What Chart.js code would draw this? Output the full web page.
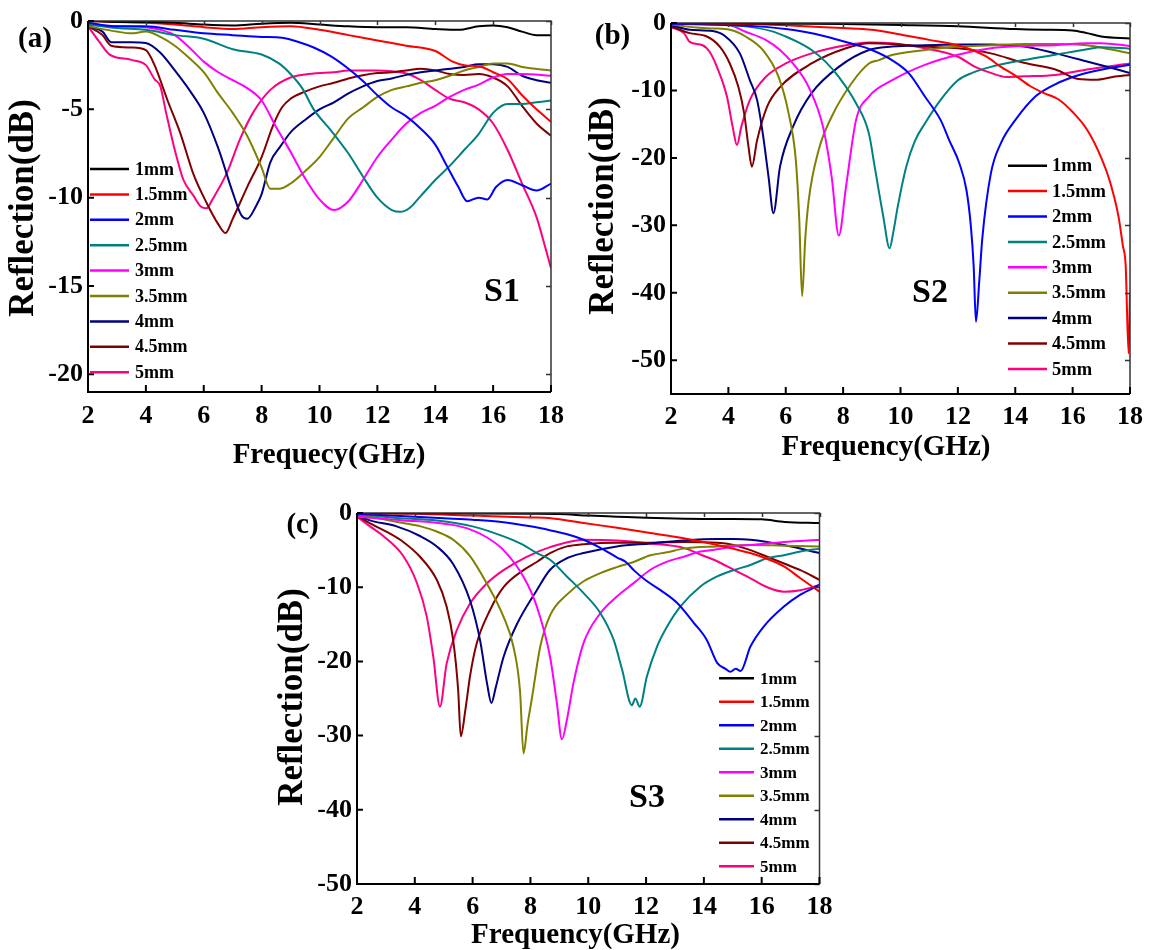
<!DOCTYPE html>
<html>
<head>
<meta charset="utf-8">
<script src="https://cdn.jsdelivr.net/npm/chart.js@4.4.1/dist/chart.umd.min.js"></script>
<style>
  body { margin: 0; background: #fff; width: 1151px; height: 950px; position: relative; overflow: hidden; }
  canvas { position: absolute; }
</style>
</head>
<body>
<canvas id="chart-a" width="575" height="475" style="left:0px;top:0px"></canvas>
<canvas id="chart-b" width="576" height="475" style="left:575px;top:0px"></canvas>
<canvas id="chart-c" width="575" height="475" style="left:270px;top:475px"></canvas>
<script>
// sample thicknesses, shared by all three panels
const thickness = ['1mm', '1.5mm', '2mm', '2.5mm', '3mm', '3.5mm', '4mm', '4.5mm', '5mm'];
const lineColors = ['#000000', '#ff0000', '#0000ff', '#008080', '#ff00ff', '#808000', '#000080', '#800000', '#ff0080'];
const freqTicks = [2, 4, 6, 8, 10, 12, 14, 16, 18];
const dbTicksA = [0, -5, -10, -15, -20];
const dbTicksB = [0, -10, -20, -30, -40, -50];
const dbTicksC = [0, -10, -20, -30, -40, -50];

// S1 reflection loss, [GHz, dB]
const s1_10 = [[2,0],[3,-0.05],[4,-0.05],[5,-0.1],[6,-0.2],[7,-0.25],[8,-0.15],[9,-0.1],[10,-0.2],[11,-0.3],[12,-0.35],[13,-0.35],[14,-0.45],[14.8,-0.5],[15.5,-0.3],[16,-0.25],[16.5,-0.35],[17,-0.6],[17.5,-0.8],[18,-0.8]];
const s1_15 = [[2,0],[3,-0.05],[4,-0.1],[5,-0.2],[6,-0.35],[7,-0.45],[8,-0.35],[9,-0.3],[10,-0.5],[11,-0.8],[12,-1.1],[13,-1.4],[14,-1.7],[14.6,-2.3],[15,-2.5],[15.6,-2.6],[16,-2.9],[16.5,-3.3],[17,-4.2],[17.5,-5.0],[18,-5.7]];
const s1_20 = [[2,-0.1],[3,-0.3],[4,-0.3],[5,-0.5],[6,-0.7],[7,-0.8],[8,-0.9],[8.7,-0.95],[9.3,-1.2],[9.8,-1.5],[10.4,-2.0],[11,-2.7],[11.5,-3.4],[12,-4.2],[12.5,-4.9],[13,-5.4],[13.5,-6.1],[14,-7.0],[14.4,-8.2],[14.8,-9.4],[15.1,-10.2],[15.5,-10.0],[15.8,-10.1],[16.1,-9.4],[16.5,-9.0],[17,-9.3],[17.5,-9.6],[18,-9.2]];
const s1_25 = [[2,-0.2],[3,-0.4],[4,-0.5],[5,-0.8],[6,-1.0],[7,-1.6],[8,-1.9],[8.6,-2.4],[9,-3.0],[9.4,-3.8],[9.8,-5.0],[10.4,-6.2],[11,-7.5],[11.5,-8.8],[12,-10.0],[12.5,-10.7],[12.8,-10.8],[13.1,-10.6],[13.5,-9.9],[14,-9.0],[14.5,-8.2],[15,-7.3],[15.5,-6.4],[16,-5.2],[16.5,-4.7],[17,-4.7],[17.5,-4.6],[18,-4.5]];
const s1_30 = [[2,-0.2],[3,-0.3],[4,-0.35],[4.5,-0.5],[5,-0.8],[5.5,-1.5],[6,-2.3],[6.5,-2.9],[7,-3.35],[7.5,-3.8],[8,-4.5],[8.5,-6.0],[9,-7.4],[9.5,-8.9],[10,-10.1],[10.5,-10.7],[11,-10.2],[11.5,-9.0],[12,-7.7],[12.5,-6.7],[13,-5.8],[13.5,-5.2],[14,-4.8],[14.5,-4.3],[15,-3.9],[15.5,-3.6],[16,-3.2],[16.5,-3.0],[17,-3.0],[18,-3.1]];
const s1_35 = [[2,-0.3],[3,-0.6],[3.5,-0.7],[4,-0.6],[4.5,-0.9],[5,-1.4],[5.5,-2.1],[6,-2.9],[6.5,-4.1],[7,-5.2],[7.5,-6.5],[8,-8.3],[8.3,-9.5],[8.6,-9.5],[9,-9.2],[9.5,-8.5],[10,-7.7],[10.5,-6.6],[11,-5.5],[11.5,-4.9],[12,-4.3],[12.5,-3.9],[13,-3.7],[13.5,-3.5],[14,-3.35],[14.5,-3.1],[15,-2.8],[15.5,-2.6],[16,-2.4],[16.5,-2.4],[17,-2.6],[18,-2.8]];
const s1_40 = [[2,-0.3],[2.5,-0.6],[2.8,-1.2],[3.5,-1.2],[4,-1.25],[4.5,-1.8],[5,-2.8],[5.5,-3.9],[6,-5.2],[6.5,-7.2],[7,-9.7],[7.3,-11.0],[7.5,-11.2],[7.8,-10.5],[8,-9.8],[8.3,-8.0],[8.65,-7.1],[9,-6.3],[9.5,-5.6],[10,-5.0],[10.5,-4.6],[11,-4.1],[11.5,-3.7],[12,-3.4],[12.5,-3.25],[13,-3.05],[13.5,-2.9],[14,-2.8],[15,-2.6],[15.5,-2.45],[16,-2.45],[16.5,-2.6],[17,-3.1],[17.5,-3.35],[18,-3.5]];
const s1_45 = [[2,-0.3],[2.5,-0.8],[2.8,-1.4],[3.5,-1.5],[4,-1.65],[4.3,-2.5],[4.75,-4.5],[5.2,-6.4],[5.65,-8.7],[6.1,-10.3],[6.5,-11.5],[6.75,-12.0],[7,-11.2],[7.5,-9.4],[8,-7.7],[8.4,-5.9],[8.7,-4.9],[9,-4.4],[9.5,-4.0],[10,-3.7],[10.5,-3.5],[11,-3.25],[11.5,-3.07],[12,-2.95],[12.5,-2.9],[13,-2.8],[13.5,-2.7],[14,-2.8],[14.5,-3.0],[15,-3.05],[15.5,-3.0],[16,-3.2],[16.5,-3.7],[17,-4.8],[17.5,-5.8],[18,-6.5]];
const s1_50 = [[2,-0.3],[2.4,-1.2],[2.75,-1.9],[3.5,-2.2],[4,-2.5],[4.3,-3.3],[4.5,-3.7],[4.7,-5.2],[5,-7.3],[5.3,-9.0],[5.65,-9.9],[5.9,-10.5],[6.1,-10.6],[6.3,-10.1],[6.8,-8.6],[7.25,-6.7],[7.7,-5.2],[8.3,-3.9],[9,-3.2],[9.8,-2.97],[10.5,-2.9],[11,-2.8],[12,-2.8],[12.5,-2.85],[13,-2.97],[13.5,-3.35],[14,-3.9],[14.5,-4.4],[15,-4.6],[15.5,-5.0],[16,-5.8],[16.5,-7.3],[17,-9.2],[17.5,-11.1],[17.8,-12.8],[18,-14.0]];

// S2 reflection loss
const s2_10 = [[2,0],[4,-0.05],[6,-0.1],[8,-0.15],[10,-0.3],[12,-0.5],[14,-0.9],[15,-1.0],[16,-1.1],[16.5,-1.5],[17,-2.0],[18,-2.3]];
const s2_15 = [[2,0],[3,-0.05],[4,-0.1],[5,-0.2],[6,-0.35],[7,-0.55],[8,-0.75],[9,-1.0],[10,-1.7],[11,-2.5],[12,-3.3],[12.5,-4.0],[13,-5.0],[13.5,-6.5],[14,-7.8],[14.5,-9.3],[15,-10.4],[15.5,-11.3],[16,-13.2],[16.5,-15.8],[17,-20.0],[17.3,-23.5],[17.6,-28.7],[17.75,-33.0],[17.85,-36.0],[17.95,-49.0],[18,-40.0]];
const s2_20 = [[2,-0.1],[3,-0.2],[4,-0.3],[5,-0.5],[6,-0.9],[7,-1.6],[8,-2.7],[8.5,-3.3],[9,-4.0],[9.7,-5.5],[10.3,-7.5],[10.85,-10.9],[11.4,-14.4],[11.7,-17.4],[12.05,-20.8],[12.3,-24.8],[12.45,-30.0],[12.55,-36.0],[12.63,-44.3],[12.75,-38.0],[12.85,-32.0],[13.15,-22.3],[13.5,-17.8],[14,-14.4],[14.7,-10.9],[15.2,-9.5],[16,-8.0],[16.9,-7.0],[18,-6.2]];
const s2_25 = [[2,-0.1],[3,-0.2],[4,-0.35],[4.6,-0.5],[5.5,-1.2],[6,-2.0],[6.5,-3.0],[6.9,-4.0],[7.4,-5.8],[7.85,-8.0],[8.45,-11.9],[8.9,-16.4],[9.1,-21.3],[9.4,-28.7],[9.62,-33.4],[9.75,-31.0],[9.9,-27.3],[10.2,-21.3],[10.5,-17.5],[10.85,-14.9],[11.4,-11.4],[12,-8.5],[12.5,-7.4],[13.15,-6.5],[14.3,-5.5],[15.4,-4.7],[16.5,-3.9],[17,-3.6],[18,-3.8]];
const s2_30 = [[2,-0.1],[3,-0.15],[3.9,-0.2],[4.6,-1.3],[5.3,-2.5],[5.8,-4.0],[6.25,-6.0],[6.8,-9.5],[7.3,-15.4],[7.6,-22.8],[7.85,-31.5],[8.1,-24.3],[8.45,-14.4],[8.9,-10.9],[9.7,-8.5],[10.85,-6.2],[12,-4.7],[13.15,-3.75],[14.3,-3.4],[15.4,-3.3],[16.5,-3.0],[17,-3.0],[18,-3.4]];
const s2_35 = [[2,-0.2],[2.5,-0.5],[3,-0.7],[3.45,-0.8],[4.05,-1.0],[4.6,-2.0],[5.2,-4.0],[5.75,-8.0],[6.1,-13.4],[6.35,-20.3],[6.47,-29.0],[6.57,-40.5],[6.68,-32.0],[6.8,-26.3],[7.15,-18.8],[7.6,-13.9],[8.3,-8.9],[8.9,-6.0],[9.25,-5.5],[9.7,-4.75],[10.85,-4.0],[12,-3.5],[13.15,-3.3],[14.3,-3.1],[15.4,-3.1],[16.5,-3.3],[17.3,-3.9],[18,-4.5]];
const s2_40 = [[2,-0.3],[2.65,-1.0],[3.45,-1.2],[3.9,-2.0],[4.4,-4.5],[4.75,-8.5],[5.0,-11.4],[5.2,-16.4],[5.4,-22.8],[5.57,-28.2],[5.8,-21.3],[6.25,-15.4],[6.9,-10.4],[7.85,-6.5],[8.9,-4.0],[9.7,-3.5],[10.85,-3.3],[12,-3.2],[13.15,-3.2],[14.3,-3.5],[15.4,-4.5],[16.5,-5.7],[18,-7.4]];
const s2_45 = [[2,-0.5],[2.65,-1.5],[3.25,-2.0],[3.7,-3.5],[4.05,-6.0],[4.35,-9.5],[4.55,-13.4],[4.7,-18.3],[4.82,-21.3],[5.0,-17.4],[5.35,-12.4],[5.8,-9.5],[6.9,-6.0],[8.1,-3.75],[8.9,-3.0],[9.7,-3.1],[10.85,-3.5],[12,-3.75],[13.15,-4.5],[14.3,-5.9],[15.4,-6.9],[16.2,-8.3],[16.8,-8.4],[17.4,-8.0],[18,-7.7]];
const s2_50 = [[2,-0.6],[2.45,-1.5],[2.65,-2.8],[3.1,-3.3],[3.35,-4.3],[3.6,-6.5],[3.95,-10.9],[4.15,-15.4],[4.3,-18.1],[4.45,-15.4],[4.75,-11.4],[5.3,-8.0],[6.0,-6.0],[6.9,-4.5],[8.1,-3.3],[8.9,-2.9],[9.7,-3.0],[10.85,-3.75],[12,-5.0],[12.6,-6.5],[13.15,-7.4],[13.7,-8.0],[14.3,-7.9],[15.4,-7.7],[16.5,-6.9],[18,-6.0]];

// S3 reflection loss
const s3_10 = [[2,0],[5,-0.05],[8,-0.1],[9,-0.15],[10,-0.35],[11,-0.5],[12,-0.65],[13,-0.75],[14,-0.8],[15,-0.8],[16,-0.85],[16.8,-1.2],[18,-1.35]];
const s3_15 = [[2,0],[4,-0.1],[6,-0.35],[8,-0.6],[8.7,-0.7],[9.84,-1.35],[11,-2.0],[12.15,-2.7],[13.3,-3.4],[14.46,-4.3],[15.6,-5.4],[16.2,-6.2],[16.77,-7.2],[17.34,-8.8],[18,-10.6]];
const s3_20 = [[2,-0.1],[3,-0.3],[4,-0.5],[5,-0.7],[6,-0.9],[7,-1.2],[8,-1.8],[8.7,-2.35],[9.3,-2.9],[9.84,-3.6],[10.42,-4.7],[11,-6.0],[11.3,-6.6],[11.6,-7.8],[12,-9.1],[12.5,-10.4],[13.07,-12.1],[13.65,-14.8],[14.1,-17.1],[14.46,-20.2],[14.75,-21.0],[14.92,-21.4],[15.1,-21.0],[15.27,-21.3],[15.61,-18.0],[16.07,-15.3],[16.77,-12.6],[17.34,-11.0],[18,-9.7]];
const s3_25 = [[2,-0.2],[2.45,-0.35],[3.5,-0.7],[4.76,-1.0],[6,-1.8],[7.07,-3.15],[7.7,-4.2],[8.22,-5.4],[8.68,-6.3],[9.26,-8.55],[9.84,-10.8],[10.42,-13.5],[10.88,-17.1],[11.17,-21.1],[11.51,-25.9],[11.63,-25.0],[11.78,-26.1],[12.03,-22.0],[12.38,-18.0],[12.73,-15.3],[13.19,-12.6],[13.88,-9.9],[14.46,-8.55],[15.03,-7.7],[15.61,-7.0],[16.19,-6.1],[16.77,-5.7],[17.34,-5.2],[18,-4.8]];
const s3_30 = [[2,-0.5],[3,-0.8],[3.6,-1.0],[4.5,-1.2],[5.3,-1.6],[5.91,-2.2],[6.5,-3.3],[7.07,-5.0],[7.76,-8.6],[8.22,-12.6],[8.68,-19.4],[8.91,-25.5],[9.09,-30.5],[9.26,-27.9],[9.49,-22.9],[9.84,-17.5],[10.42,-13.5],[10.99,-11.25],[11.57,-9.45],[12.15,-7.65],[12.73,-6.55],[13.3,-5.9],[13.88,-5.2],[14.46,-4.9],[15.03,-4.5],[15.61,-4.3],[16.19,-4.1],[16.77,-3.9],[18,-3.6]];
const s3_35 = [[2,-0.4],[2.45,-0.5],[3,-0.9],[3.6,-1.35],[4.2,-1.8],[4.76,-2.5],[5.33,-3.6],[5.91,-5.8],[6.49,-9.5],[7.07,-14.0],[7.41,-18.0],[7.64,-24.0],[7.76,-32.4],[7.9,-28.5],[8.05,-25.0],[8.34,-18.0],[8.68,-13.8],[9.26,-11.0],[9.84,-9.2],[10.42,-8.1],[10.99,-7.3],[11.57,-6.6],[12.15,-5.7],[12.73,-5.3],[13.3,-4.8],[14.46,-4.5],[15.61,-4.3],[16.77,-4.4],[18,-4.5]];
const s3_40 = [[2,-0.3],[2.45,-1.0],[3.37,-1.8],[4.18,-3.1],[4.76,-4.5],[5.33,-6.9],[5.91,-11.8],[6.26,-17.2],[6.5,-23.0],[6.65,-25.6],[6.8,-23.5],[7.07,-19.4],[7.53,-15.0],[8.22,-10.4],[8.68,-7.65],[9.26,-6.1],[9.84,-5.4],[10.99,-4.5],[12.15,-4.1],[13.3,-3.7],[14.46,-3.5],[15.03,-3.5],[15.61,-3.6],[16.77,-4.3],[18,-5.4]];
const s3_45 = [[2,-0.4],[2.45,-1.4],[2.91,-2.3],[3.6,-3.9],[4.18,-5.9],[4.76,-9.0],[5.1,-12.6],[5.33,-17.2],[5.5,-23.9],[5.59,-30.1],[5.75,-26.5],[5.91,-22.0],[6.14,-17.6],[6.6,-13.1],[7.07,-10.0],[7.76,-7.7],[8.22,-6.6],[8.68,-5.4],[9.26,-4.5],[9.84,-4.2],[11,-4.0],[12.15,-4.0],[13.3,-3.9],[14.46,-4.0],[15.03,-4.3],[15.61,-5.0],[16.19,-5.9],[16.77,-6.8],[17.34,-7.7],[18,-9.0]];
const s3_50 = [[2,-0.5],[2.45,-1.8],[2.91,-3.1],[3.6,-5.8],[4.07,-9.4],[4.41,-13.9],[4.64,-19.4],[4.87,-26.1],[5.1,-20.3],[5.45,-15.8],[5.91,-12.2],[6.49,-9.5],[7.07,-7.7],[7.87,-5.9],[8.68,-4.6],[9.84,-3.6],[11,-3.7],[12.15,-4.1],[13.3,-4.7],[13.88,-5.6],[14.46,-6.5],[15.03,-7.65],[15.61,-8.8],[16.19,-10.0],[16.77,-10.6],[17.34,-10.4],[18,-9.7]];

const serif = "'Liberation Serif', 'Times New Roman', serif";

// box round the plot with inward tick marks on every side
function framePlugin() {
    return {
        id: 'frame',
        afterDraw(chart) {
            const ctx = chart.ctx;
            const { left, right, top, bottom } = chart.chartArea;
            const xs = chart.scales.x, ys = chart.scales.y;
            ctx.save();
            ctx.lineWidth = 1.5;
            ctx.strokeStyle = '#333';
            ctx.beginPath();
            ctx.moveTo(left, top); ctx.lineTo(right, top); ctx.lineTo(right, bottom);
            xs.ticks.forEach(t => {
                const px = Math.round(xs.getPixelForValue(t.value)) + 0.5;
                ctx.moveTo(px, top); ctx.lineTo(px, top + 4);
            });
            ys.ticks.forEach(t => {
                const py = Math.round(ys.getPixelForValue(t.value)) + 0.5;
                ctx.moveTo(right, py); ctx.lineTo(right - 5, py);
            });
            ctx.stroke();
            ctx.lineWidth = 2;
            ctx.strokeStyle = '#000';
            ctx.beginPath();
            ctx.moveTo(left, top); ctx.lineTo(left, bottom); ctx.lineTo(right, bottom);
            xs.ticks.forEach(t => {
                const px = xs.getPixelForValue(t.value);
                ctx.moveTo(px, bottom); ctx.lineTo(px, bottom - 7);
            });
            ys.ticks.forEach(t => {
                const py = ys.getPixelForValue(t.value);
                ctx.moveTo(left, py); ctx.lineTo(left + 6, py);
            });
            ctx.stroke();
            ctx.restore();
        }
    };
}

// legend drawn inside the plot, one row per dataset
function legendPlugin(cfg) {
    return {
        id: 'sideLegend',
        afterDraw(chart) {
            const ctx = chart.ctx;
            ctx.save();
            ctx.font = 'bold ' + cfg.size + 'px ' + serif;
            ctx.textBaseline = 'middle';
            ctx.textAlign = 'left';
            chart.data.datasets.forEach((ds, i) => {
                const y = cfg.y + i * cfg.step;
                ctx.strokeStyle = ds.borderColor;
                ctx.lineWidth = 2.5;
                ctx.beginPath();
                ctx.moveTo(cfg.x, y); ctx.lineTo(cfg.x + cfg.len, y);
                ctx.stroke();
                ctx.fillStyle = '#000';
                ctx.fillText(ds.label, cfg.x + cfg.len + cfg.gap, y + 1);
            });
            ctx.restore();
        }
    };
}

// axis titles, panel letter and sample name
function textPlugin(items) {
    return {
        id: 'panelText',
        afterDraw(chart) {
            const ctx = chart.ctx;
            items.forEach(it => {
                ctx.save();
                ctx.font = 'bold ' + it.size + 'px ' + serif;
                ctx.fillStyle = '#000';
                ctx.textAlign = 'center';
                ctx.textBaseline = it.baseline || 'middle';
                ctx.translate(it.x, it.y);
                if (it.rotate) ctx.rotate(-Math.PI / 2);
                ctx.fillText(it.text, 0, 0);
                ctx.restore();
            });
        }
    };
}

function buildChart(canvasId, series, yMin, yTicks, lay) {
    const ctx = document.getElementById(canvasId).getContext('2d');
    const tickFont = { family: serif, size: 26, weight: 'bold' };
    return new Chart(ctx, {
        type: 'line',
        data: {
            datasets: series.map((pts, i) => ({
                label: thickness[i],
                data: pts,
                borderColor: lineColors[i],
                borderWidth: 2,
                pointRadius: 0,
                cubicInterpolationMode: 'monotone',
                fill: false
            }))
        },
        options: {
            responsive: false,
            animation: false,
            devicePixelRatio: 1,
            layout: { padding: { top: lay.padTop, right: lay.padRight, left: 0, bottom: 0 } },
            scales: {
                x: {
                    type: 'linear', min: 2, max: 18,
                    afterBuildTicks: s => { s.ticks = freqTicks.map(v => ({ value: v })); },
                    afterFit: s => { s.height = lay.xHeight; },
                    grid: { display: false, drawTicks: false },
                    border: { display: false },
                    ticks: { font: tickFont, color: '#000', padding: lay.xPad, maxRotation: 0, autoSkip: false }
                },
                y: {
                    type: 'linear', min: yMin, max: 0,
                    afterBuildTicks: s => { s.ticks = yTicks.map(v => ({ value: v })); },
                    afterFit: s => { s.width = lay.yWidth; },
                    grid: { display: false, drawTicks: false },
                    border: { display: false },
                    ticks: { font: tickFont, color: '#000', padding: 5, autoSkip: false }
                }
            },
            plugins: {
                legend: { display: false },
                tooltip: { enabled: false }
            }
        },
        plugins: [framePlugin(), legendPlugin(lay.legend), textPlugin(lay.texts)]
    });
}

buildChart('chart-a', [s1_10, s1_15, s1_20, s1_25, s1_30, s1_35, s1_40, s1_45, s1_50], -21, dbTicksA, {
    padTop: 21, padRight: 24, yWidth: 88, xHeight: 83, xPad: 9,
    legend: { x: 90, y: 169, step: 25.4, len: 39, gap: 6, size: 18 },
    texts: [
        { text: '(a)', x: 35, y: 40, size: 29 },
        { text: 'S1', x: 502, y: 292, size: 34 },
        { text: 'Reflection(dB)', x: 33, y: 208, size: 35, rotate: true, baseline: 'alphabetic' },
        { text: 'Frequecy(GHz)', x: 329, y: 463, size: 29, baseline: 'alphabetic' }
    ]
});

buildChart('chart-b', [s2_10, s2_15, s2_20, s2_25, s2_30, s2_35, s2_40, s2_45, s2_50], -55, dbTicksB, {
    padTop: 23, padRight: 18, yWidth: 96, xHeight: 81, xPad: 8,
    legend: { x: 433, y: 165.7, step: 25.4, len: 39, gap: 5, size: 18.5 },
    texts: [
        { text: '(b)', x: 37.5, y: 37, size: 29 },
        { text: 'S2', x: 355, y: 293, size: 34 },
        { text: 'Reflection(dB)', x: 38, y: 206, size: 35, rotate: true, baseline: 'alphabetic' },
        { text: 'Frequency(GHz)', x: 311, y: 455, size: 29, baseline: 'alphabetic' }
    ]
});

buildChart('chart-c', [s3_10, s3_15, s3_20, s3_25, s3_30, s3_35, s3_40, s3_45, s3_50], -50, dbTicksC, {
    padTop: 38, padRight: 25.5, yWidth: 87, xHeight: 66, xPad: 8,
    legend: { x: 449, y: 203.3, step: 23.5, len: 35, gap: 6, size: 17 },
    texts: [
        { text: '(c)', x: 32.5, y: 51, size: 29 },
        { text: 'S3', x: 377, y: 323, size: 34 },
        { text: 'Reflection(dB)', x: 32, y: 222, size: 35, rotate: true, baseline: 'alphabetic' },
        { text: 'Frequency(GHz)', x: 305.5, y: 468, size: 29, baseline: 'alphabetic' }
    ]
});
</script>
</body>
</html>
